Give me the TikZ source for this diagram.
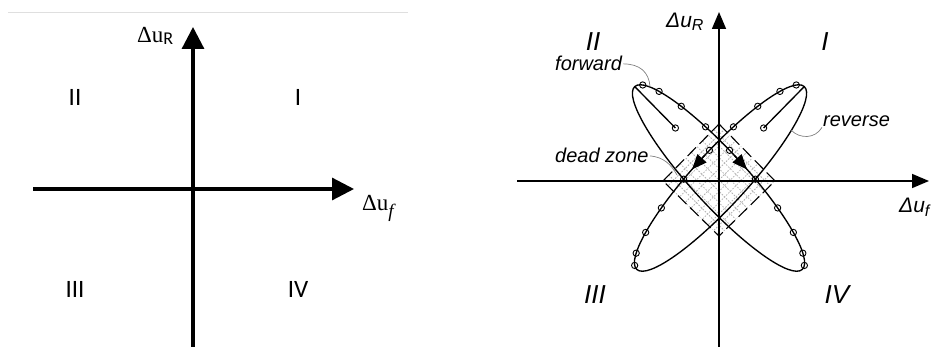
\documentclass[tikz,border=0pt]{standalone}
\usepackage{fontspec}
\newfontfamily\carlito{Carlito}
\newfontfamily\lserif{Liberation Serif}
\newfontfamily\lsans{Liberation Sans}
\usetikzlibrary{arrows.meta,calc}
\begin{document}
\begin{tikzpicture}[x=1pt,y=-1pt,
  axisL/.style={line width=3.2pt,-{Triangle[length=22pt,width=22pt]}},
  axisR/.style={line width=1.6pt,-{Triangle[length=17pt,width=14pt]}},
  loopline/.style={line width=1.35pt},
  marker/.style={circle,draw,line width=0.9pt,inner sep=0pt,minimum size=6.3pt},
  flowtip/.style={line width=1.35pt,-{Triangle[length=15pt,width=12pt]}},
  deadline/.style={line width=1.1pt,dash pattern=on 12pt off 5pt},
  hatchline/.style={gray!60,line width=0.8pt,dash pattern=on 1.6pt off 1.4pt},
  leader/.style={gray,line width=0.7pt},
  numL/.style={font=\carlito\fontsize{25}{30}\selectfont},
  numR/.style={font=\lsans\itshape\fontsize{26}{30}\selectfont},
  note/.style={font=\lsans\itshape\fontsize{20}{24}\selectfont,inner sep=0pt}]
\useasboundingbox (0,0) rectangle (936,347);

% ---------------- left panel: plain quadrant axes ----------------
\coordinate (ruleA) at (8,13);
\coordinate (ruleB) at (408,13);
\draw[gray!25,line width=1pt] (ruleA) -- (ruleB);

\coordinate (lxL) at (33,189);
\coordinate (lxR) at (354,189);
\coordinate (lyB) at (193,347);
\coordinate (lyT) at (193,27);
\draw[axisL] (lxL) -- (lxR);
\draw[axisL] (lyB) -- (lyT);

\node[anchor=base west,inner sep=0pt] (duRL) at (137,43)
  {\lserif\fontsize{23}{27}\selectfont Δu\raisebox{-0.08em}{\carlito\fontsize{18}{18}\selectfont R}};
\node[anchor=base west,inner sep=0pt] (duFL) at (362,211)
  {\lserif\fontsize{23}{27}\selectfont Δu\raisebox{-0.3em}{\fontsize{19}{19}\selectfont\itshape f}};

\node[numL] (q2L) at (75,97) {II};
\node[numL] (q1L) at (298,97) {I};
\node[numL] (q3L) at (75,289) {III};
\node[numL] (q4L) at (298,289) {IV};

% ---------------- right panel: loops and dead zone ----------------
\coordinate (dzT) at (719,124);
\coordinate (dzR) at (775,181);
\coordinate (dzB) at (719,236);
\coordinate (dzLf) at (663,181);

% cross-hatched dead zone
\begin{scope}
  \clip (dzT) -- (dzR) -- (dzB) -- (dzLf) -- cycle;
  \begin{scope}[shift={(719,180)},rotate=45]
    \foreach \k in {-40,-32,...,40}{
      \draw[hatchline] (\k,-45) -- (\k,45);
      \draw[hatchline] (-45,\k) -- (45,\k);
    }
  \end{scope}
\end{scope}
\draw[deadline] (dzT) -- (dzR) -- (dzB) -- (dzLf) -- cycle;

% reverse loop (quadrants I and III)
\begin{scope}[shift={(720.5,178)},rotate=47.5,y=1pt]
  \draw[loopline] (0,0) ellipse [x radius=124,y radius=27];
  \coordinate (rTip) at (124,0);
  \coordinate (rIn) at (66,2);
  \draw[loopline] (rTip) -- (rIn);
  \node[marker] (rm0) at (rIn) {};
  \foreach \t [count=\i] in {15,33,51,68,84,102,120,137,155,171}
    \node[marker] (rm\i) at ({124*cos(\t)},{27*sin(\t)}) {};
  \coordinate (rA) at ({124*cos(87)},{27*sin(87)});
  \coordinate (rB) at ({124*cos(96)},{27*sin(96)});
  \draw[flowtip] (rA) -- (rB);
  \coordinate (rvE) at ({124*cos(-48)},{27*sin(-48)});
\end{scope}

% forward loop (quadrants II and IV), mirror image of the reverse loop
\begin{scope}[shift={(718.5,178)},xscale=-1,rotate=47.5,y=1pt]
  \draw[loopline] (0,0) ellipse [x radius=124,y radius=27];
  \coordinate (fTip) at (124,0);
  \coordinate (fIn) at (66,2);
  \draw[loopline] (fTip) -- (fIn);
  \node[marker] (fm0) at (fIn) {};
  \foreach \t [count=\i] in {15,33,51,68,84,102,120,137,155,171}
    \node[marker] (fm\i) at ({124*cos(\t)},{27*sin(\t)}) {};
  \coordinate (fA) at ({124*cos(87)},{27*sin(87)});
  \coordinate (fB) at ({124*cos(96)},{27*sin(96)});
  \draw[flowtip] (fA) -- (fB);
  \coordinate (fwE) at ({124*cos(24)},{27*sin(24)});
\end{scope}

% axes
\coordinate (rxL) at (517,181);
\coordinate (rxR) at (929,181);
\coordinate (ryB) at (719,347);
\coordinate (ryT) at (719,12);
\draw[axisR] (rxL) -- (rxR);
\draw[axisR] (ryB) -- (ryT);

\node[anchor=base west,inner sep=0pt] (duRR) at (666,28)
  {\lsans\itshape\fontsize{21}{25}\selectfont Δu\raisebox{-0.12em}{\fontsize{16}{16}\selectfont R}};
\node[anchor=base west,inner sep=0pt] (duFR) at (899,213)
  {\lsans\itshape\fontsize{21}{25}\selectfont Δu\raisebox{-0.15em}{\fontsize{16}{16}\selectfont f}};

\node[numR] (q2R) at (593,42) {II};
\node[numR] (q1R) at (825,42) {I};
\node[numR] (q3R) at (595,295) {III};
\node[numR] (q4R) at (837,295) {IV};

% labels with leader lines
\node[note,anchor=base west] (fwdL) at (555,71) {forward};
\node[note,anchor=base west] (revL) at (823,127) {reverse};
\node[note,anchor=base west] (deadL) at (555,163) {dead zone};
\coordinate (dzE) at (677,175);

\draw[leader] ([xshift=1pt]fwdL.east) .. controls (640,64) and (649,72) .. (fwE);
\draw[leader] ([xshift=-1pt]revL.south west) .. controls (815,139) and (800,139) .. (rvE);
\draw[leader] ([xshift=1pt]deadL.east) .. controls (663,157) and (671,164) .. (dzE);
\end{tikzpicture}
\end{document}
